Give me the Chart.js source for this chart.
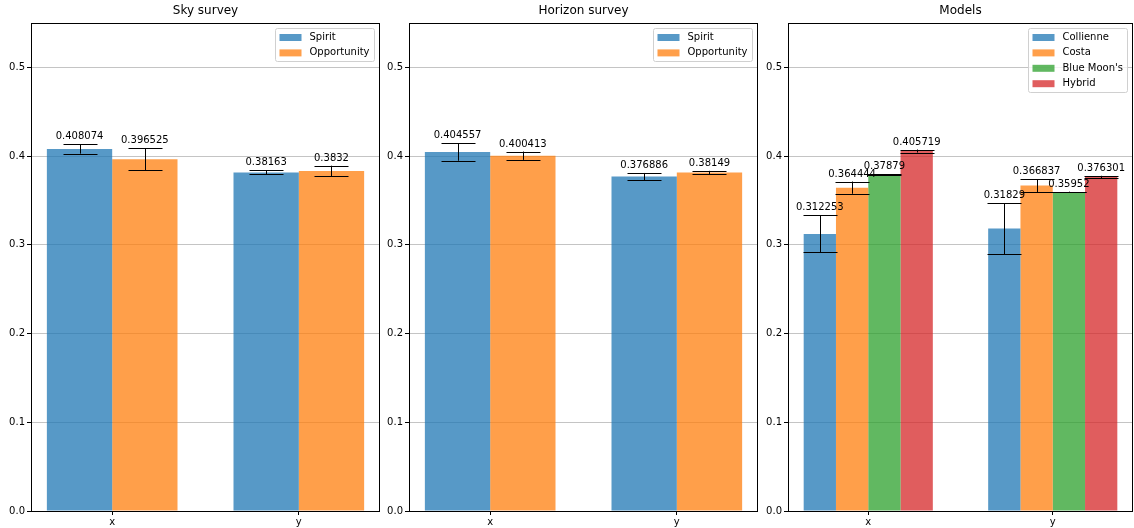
<!DOCTYPE html>
<html>
<head>
<meta charset="utf-8">
<script src="https://cdn.jsdelivr.net/npm/chart.js@4.4.1/dist/chart.umd.min.js"></script>
<style>
  body { margin: 0; background: #fff; width: 1134px; height: 528px; position: relative; overflow: hidden; }
  canvas { position: absolute; top: 0; }
</style>
</head>
<body>
<canvas id="sky" width="382" height="528" style="left:0px"></canvas>
<canvas id="horizon" width="382" height="528" style="left:378px"></canvas>
<canvas id="models" width="377" height="528" style="left:757px"></canvas>
<script>
// categories and tick values
const categories = ['x', 'y'];
const yTicks = [0, 0.1, 0.2, 0.3, 0.4, 0.5];

// Sky survey
const skyNames = ['Spirit', 'Opportunity'];
const skySpirit = [0.408074, 0.38163];
const skyOpportunity = [0.396525, 0.3832];
const skySpiritErr = [0.0053, 0.0023];
const skyOpportunityErr = [0.0124, 0.006];

// Horizon survey
const horizonNames = ['Spirit', 'Opportunity'];
const horizonSpirit = [0.404557, 0.376886];
const horizonOpportunity = [0.400413, 0.38149];
const horizonSpiritErr = [0.0098, 0.0041];
const horizonOpportunityErr = [0.0047, 0.0019];

// Models
const modelNames = ['Collienne', 'Costa', "Blue Moon's", 'Hybrid'];
const modelCollienne = [0.312253, 0.31829];
const modelCosta = [0.364444, 0.366837];
const modelBlueMoon = [0.37879, 0.35952];
const modelHybrid = [0.405719, 0.376301];
const modelCollienneErr = [0.0208, 0.0287];
const modelCostaErr = [0.0069, 0.0073];
const modelBlueMoonErr = [0.0005, 0.0004];
const modelHybridErr = [0.0017, 0.0015];

const colors = ['rgba(31,119,180,0.75)', 'rgba(255,127,14,0.75)', 'rgba(44,160,44,0.75)', 'rgba(214,39,40,0.75)'];

Chart.defaults.font.family = 'DejaVu Sans';
Chart.defaults.font.size = 10;
Chart.defaults.color = '#000';

function makeChart(id, title, names, series, errors, padRight) {
  const datasets = series.map((vals, i) => ({
    label: names[i],
    data: vals.map((v, j) => ({ x: j, y: v })),
    backgroundColor: colors[i],
    borderWidth: 0,
    categoryPercentage: 0.7,
    barPercentage: 1.0,
  }));

  // error bars + value labels
  const errorBars = {
    id: 'errorBars',
    afterDatasetsDraw(chart) {
      const ctx = chart.ctx;
      const yScale = chart.scales.y;
      ctx.save();
      ctx.strokeStyle = '#000';
      ctx.lineWidth = 1;
      ctx.fillStyle = '#000';
      ctx.font = '10px "DejaVu Sans"';
      ctx.textAlign = 'center';
      ctx.textBaseline = 'alphabetic';
      series.forEach((vals, i) => {
        const meta = chart.getDatasetMeta(i);
        vals.forEach((v, j) => {
          const bar = meta.data[j];
          const e = errors[i][j];
          const top = yScale.getPixelForValue(v + e);
          const bot = yScale.getPixelForValue(v - e);
          const x = Math.round(bar.x) + 0.5;
          ctx.beginPath();
          ctx.moveTo(x, top);
          ctx.lineTo(x, bot);
          ctx.moveTo(x - 17, Math.round(top) + 0.5);
          ctx.lineTo(x + 17, Math.round(top) + 0.5);
          ctx.moveTo(x - 17, Math.round(bot) + 0.5);
          ctx.lineTo(x + 17, Math.round(bot) + 0.5);
          ctx.stroke();
          ctx.fillText(String(v), bar.x, top - 5);
        });
      });
      ctx.restore();
    },
    afterDraw(chart) {
      const ctx = chart.ctx;
      const a = chart.chartArea;
      ctx.save();
      // axes box
      ctx.strokeStyle = '#000';
      ctx.lineWidth = 1;
      ctx.strokeRect(Math.round(a.left) + 0.5, Math.round(a.top) + 0.5,
        Math.round(a.right - a.left) - 1, Math.round(a.bottom - a.top));
      // legend in the upper right
      ctx.font = '10px "DejaVu Sans"';
      const textW = Math.max(...names.map(n => ctx.measureText(n).width));
      const w = 4 + 22 + 8 + textW + 5;
      const rowH = 15.4;
      const h = 18 + rowH * (names.length - 1);
      const bx = Math.round(a.right - 6 - w) + 0.5;
      const by = Math.round(a.top + 5) + 0.5;
      ctx.fillStyle = 'rgba(255,255,255,0.8)';
      ctx.strokeStyle = '#d0d0d0';
      ctx.beginPath();
      ctx.roundRect(bx, by, Math.round(w), Math.round(h), 2);
      ctx.fill();
      ctx.stroke();
      ctx.textAlign = 'left';
      ctx.textBaseline = 'middle';
      names.forEach((n, i) => {
        const cy = by + 9 + i * rowH;
        ctx.fillStyle = colors[i];
        ctx.fillRect(bx + 4, cy - 3.5, 22, 7);
        ctx.fillStyle = '#000';
        ctx.fillText(n, bx + 34, cy);
      });
      ctx.restore();
    }
  };

  return new Chart(document.getElementById(id), {
    type: 'bar',
    data: { datasets },
    options: {
      responsive: false,
      animation: false,
      layout: { padding: { left: 0, right: padRight, top: 0, bottom: 0 } },
      plugins: {
        legend: { display: false },
        tooltip: { enabled: false },
        title: {
          display: true,
          text: title,
          fullSize: false,
          color: '#000',
          font: { size: 12, weight: 'normal' },
          padding: { top: 4, bottom: 4.6 },
        },
      },
      scales: {
        x: {
          type: 'linear',
          min: -0.435,
          max: 1.435,
          offset: false,
          afterBuildTicks: (s) => { s.ticks = categories.map((c, i) => ({ value: i })); },
          afterFit: (s) => { s.height = 17; },
          ticks: { callback: (v) => categories[v], padding: 1, maxRotation: 0 },
          grid: { offset: false, drawOnChartArea: false, tickLength: 4, tickColor: '#000' },
          border: { display: false },
        },
        y: {
          min: 0,
          max: 0.55,
          afterBuildTicks: (s) => { s.ticks = yTicks.map(v => ({ value: v })); },
          afterFit: (s) => { s.width = 31; },
          ticks: { callback: (v) => v.toFixed(1), padding: 2 },
          grid: { color: '#c4c4c4', tickColor: '#000', tickLength: 4 },
          border: { display: false },
        },
      },
    },
    plugins: [errorBars],
  });
}

makeChart('sky', 'Sky survey', skyNames,
  [skySpirit, skyOpportunity], [skySpiritErr, skyOpportunityErr], 2);
makeChart('horizon', 'Horizon survey', horizonNames,
  [horizonSpirit, horizonOpportunity], [horizonSpiritErr, horizonOpportunityErr], 2);
makeChart('models', 'Models', modelNames,
  [modelCollienne, modelCosta, modelBlueMoon, modelHybrid],
  [modelCollienneErr, modelCostaErr, modelBlueMoonErr, modelHybridErr], 1);
</script>
</body>
</html>
